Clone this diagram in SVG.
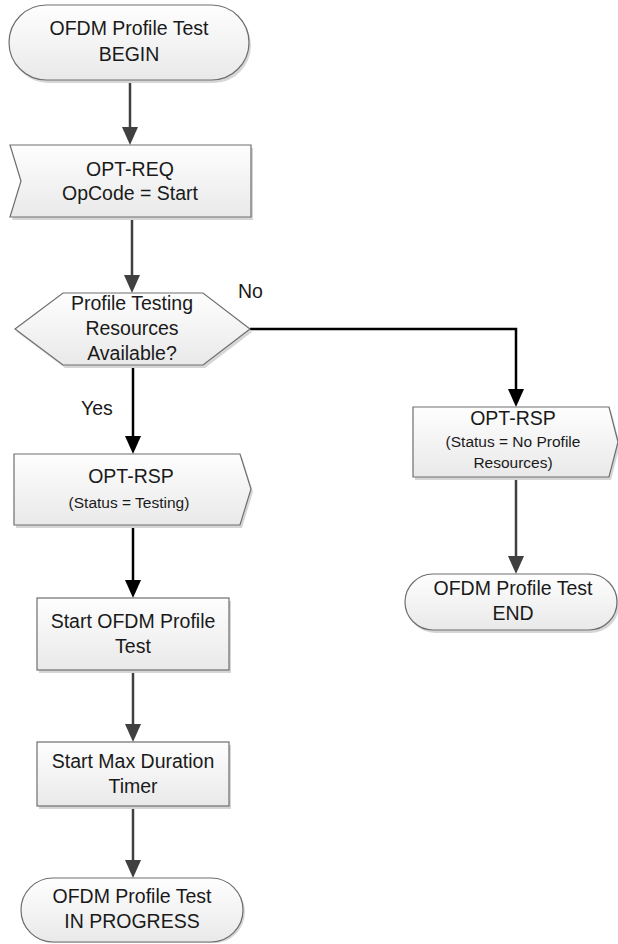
<svg xmlns="http://www.w3.org/2000/svg" width="618" height="944" viewBox="0 0 618 944">
  <defs>
    <linearGradient id="fillg" x1="0" y1="0" x2="0" y2="1">
      <stop offset="0" stop-color="#fefefe"/>
      <stop offset="1" stop-color="#e9e9e9"/>
    </linearGradient>
    <marker id="ag" markerUnits="userSpaceOnUse" markerWidth="18" markerHeight="16" viewBox="0 0 18 16" refX="8" refY="8" orient="auto">
      <path d="M0,0 L18,8 L0,16 z" fill="#404040"/>
    </marker>
    <marker id="ab" markerUnits="userSpaceOnUse" markerWidth="18" markerHeight="16" viewBox="0 0 18 16" refX="8" refY="8" orient="auto">
      <path d="M0,0 L18,8 L0,16 z" fill="#000"/>
    </marker>
  </defs>
  <style>
    .shape { fill: url(#fillg); stroke: #6e6e6e; stroke-width: 1.2; }
    .shadow { fill: #d6d6d6; stroke: none; }
    .t { font-family: "Liberation Sans", Arial, sans-serif; font-size: 19.5px; fill: #1a1a1a; text-anchor: middle; }
    .s { font-family: "Liberation Sans", Arial, sans-serif; font-size: 15.5px; fill: #1a1a1a; text-anchor: middle; }
    .lbl { font-family: "Liberation Sans", Arial, sans-serif; font-size: 19.5px; fill: #1a1a1a; }
    .cg { fill: none; stroke: #404040; stroke-width: 2.5; marker-end: url(#ag); }
    .cb { fill: none; stroke: #000; stroke-width: 2.5; marker-end: url(#ab); }
  </style>

  <g id="connectors">
    <path class="cg" d="M130,80 L130,135"/>
    <path class="cg" d="M132,217 L132,283"/>
    <path class="cb" d="M133,365 L133,444"/>
    <path class="cb" d="M250,329 L516,329 L516,397"/>
    <path class="cb" d="M133,525 L133,588"/>
    <path class="cg" d="M133,670 L133,732"/>
    <path class="cg" d="M133,806 L133,868"/>
    <path class="cg" d="M516,477 L516,564"/>
    <text class="lbl" x="81" y="415">Yes</text>
    <text class="lbl" x="238" y="298">No</text>
  </g>

  <g id="begin">
    <rect class="shadow" x="11" y="8" width="240" height="75" rx="37.5"/>
    <rect class="shape" x="9" y="5" width="240" height="75" rx="37.5"/>
    <text class="t" x="129" y="35">OFDM Profile Test</text>
    <text class="t" x="129" y="61">BEGIN</text>
  </g>

  <g id="opt-req">
    <polygon class="shadow" points="12,148 253,148 253,220 12,220 23,184"/>
    <polygon class="shape" points="10,145 251,145 251,217 10,217 21,181"/>
    <text class="t" x="130" y="176">OPT-REQ</text>
    <text class="t" x="130" y="200">OpCode = Start</text>
  </g>

  <g id="decision">
    <polygon class="shadow" points="17,332 65,296 205,296 252,332 205,368 65,368"/>
    <polygon class="shape" points="15,329 63,293 203,293 250,329 203,365 63,365"/>
    <text class="t" x="132" y="310">Profile Testing</text>
    <text class="t" x="132" y="335">Resources</text>
    <text class="t" x="132" y="360">Available?</text>
  </g>

  <g id="opt-rsp-testing">
    <polygon class="shadow" points="16,457 242,457 253,492 242,528 16,528"/>
    <polygon class="shape" points="14,454 240,454 251,489 240,525 14,525"/>
    <text class="t" x="131" y="483">OPT-RSP</text>
    <text class="s" x="129" y="508">(Status = Testing)</text>
  </g>

  <g id="opt-rsp-noresources">
    <polygon class="shadow" points="415,410 611,410 620,445 611,480 415,480"/>
    <polygon class="shape" points="413,407 609,407 618,442 609,477 413,477"/>
    <text class="t" x="513" y="425">OPT-RSP</text>
    <text class="s" x="513" y="447">(Status = No Profile</text>
    <text class="s" x="513" y="468">Resources)</text>
  </g>

  <g id="end">
    <rect class="shadow" x="407" y="577" width="212" height="56" rx="28"/>
    <rect class="shape" x="405" y="574" width="212" height="56" rx="28"/>
    <text class="t" x="513" y="595">OFDM Profile Test</text>
    <text class="t" x="513" y="620">END</text>
  </g>

  <g id="start-test">
    <rect class="shadow" x="39" y="601" width="192" height="72"/>
    <rect class="shape" x="37" y="598" width="192" height="72"/>
    <text class="t" x="133" y="628">Start OFDM Profile</text>
    <text class="t" x="133" y="653">Test</text>
  </g>

  <g id="start-timer">
    <rect class="shadow" x="39" y="745" width="192" height="64"/>
    <rect class="shape" x="37" y="742" width="192" height="64"/>
    <text class="t" x="133" y="768">Start Max Duration</text>
    <text class="t" x="133" y="793">Timer</text>
  </g>

  <g id="in-progress">
    <rect class="shadow" x="23" y="881" width="222" height="62" rx="31"/>
    <rect class="shape" x="21" y="878" width="222" height="64" rx="32"/>
    <text class="t" x="132" y="903">OFDM Profile Test</text>
    <text class="t" x="132" y="928">IN PROGRESS</text>
  </g>
</svg>
